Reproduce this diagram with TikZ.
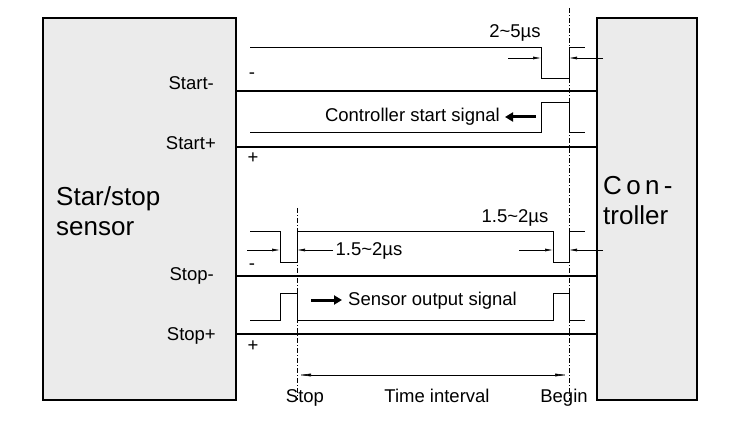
\documentclass[tikz,border=0pt]{standalone}
\usepackage{fontspec}
\setmainfont{Liberation Sans}
\usetikzlibrary{arrows.meta}
\begin{document}
\begin{tikzpicture}[x=1pt,y=-1pt,
  box/.style={draw,line width=2.2pt,fill=black!8},
  bus/.style={line width=2.2pt},
  sig/.style={line width=0.8pt},
  dd/.style={line width=0.6pt,dash pattern=on 5pt off 2pt on 1pt off 2pt},
  dim/.style={line width=0.6pt,-{Latex[length=8pt,width=3pt]}},
  lbl/.style={font=\fontsize{18.5}{21}\selectfont,inner sep=0pt},
  big/.style={font=\fontsize{26}{30}\selectfont,inner sep=0pt,align=left},
  thick arrow/.style={line width=3pt,-{Triangle[length=8pt,width=9pt]}}]
\useasboundingbox (0,0) rectangle (754,427);
\draw[box] (43,18) rectangle (236,400);
\draw[box] (597,18) rectangle (697,400);
\foreach \y in {91,147,276,334} \draw[bus] (236,\y) -- (597,\y);
\draw[dd] (569,8) -- (569,400);
\draw[dd] (297,208) -- (297,400);
\draw[sig] (250,47) -- (541,47) -- (541,78) -- (569,78) -- (569,47) -- (585,47);
\draw[sig] (250,132) -- (541,132) -- (541,102) -- (569,102) -- (569,132) -- (585,132);
\coordinate (a1) at (508,58); \coordinate (a2) at (541,58);
\coordinate (a3) at (603,58); \coordinate (a4) at (569,58);
\draw[dim] (a1) -- (a2); \draw[dim] (a3) -- (a4);
\node[lbl] (t25) at (515,33) {2\textasciitilde5µs};
\node[lbl,anchor=east] (css) at (500,117) {Controller start signal};
\coordinate (c1) at (536,117); \coordinate (c2) at (505,117);
\draw[thick arrow] (c1) -- (c2);
\draw[sig] (250,231) -- (280,231) -- (280,262) -- (297,262) -- (297,231) -- (553,231) -- (553,262) -- (569,262) -- (569,231) -- (585,231);
\draw[sig] (250,320) -- (280,320) -- (280,293) -- (297,293) -- (297,320) -- (553,320) -- (553,293) -- (569,293) -- (569,320) -- (585,320);
\coordinate (b1) at (247,250); \coordinate (b2) at (280,250);
\coordinate (b3) at (333,250); \coordinate (b4) at (297,250);
\coordinate (b5) at (519,250); \coordinate (b6) at (553,250);
\coordinate (b7) at (603,250); \coordinate (b8) at (569,250);
\draw[dim] (b1) -- (b2); \draw[dim] (b3) -- (b4);
\draw[dim] (b5) -- (b6); \draw[dim] (b7) -- (b8);
\node[lbl] (t15a) at (369,251) {1.5\textasciitilde2µs};
\node[lbl] (t15b) at (515,218) {1.5\textasciitilde2µs};
\coordinate (s1) at (311,300); \coordinate (s2) at (342,300);
\draw[thick arrow] (s1) -- (s2);
\node[lbl,anchor=west] (sos) at (348,301) {Sensor output signal};
\node[lbl] (m1) at (252,76) {-};
\node[lbl] (p1) at (253,158) {+};
\node[lbl] (m2) at (252,267) {-};
\node[lbl] (p2) at (253,346) {+};
\coordinate (ti1) at (297,375); \coordinate (ti2) at (569,375);
\draw[line width=0.6pt,{Latex[length=14pt,width=3pt]}-{Latex[length=14pt,width=3pt]}] (ti1) -- (ti2);
\node[lbl,anchor=base] (stop) at (305,402) {Stop};
\node[lbl,anchor=base] (tint) at (437,402) {Time interval};
\node[lbl,anchor=base] (begin) at (564,402) {Begin};
\node[lbl,anchor=east] (sm) at (214,83) {Start-};
\node[lbl,anchor=east] (sp) at (216,143) {Start+};
\node[lbl,anchor=east] (tm) at (214,276) {Stop-};
\node[lbl,anchor=east] (tp) at (216,336) {Stop+};
\node[big,anchor=west] (sensor) at (56,211) {Star/stop\\sensor};
\node[big,anchor=west] (ctrl) at (603,201) {C\,o\,n\,-\\troller};
\end{tikzpicture}
\end{document}
